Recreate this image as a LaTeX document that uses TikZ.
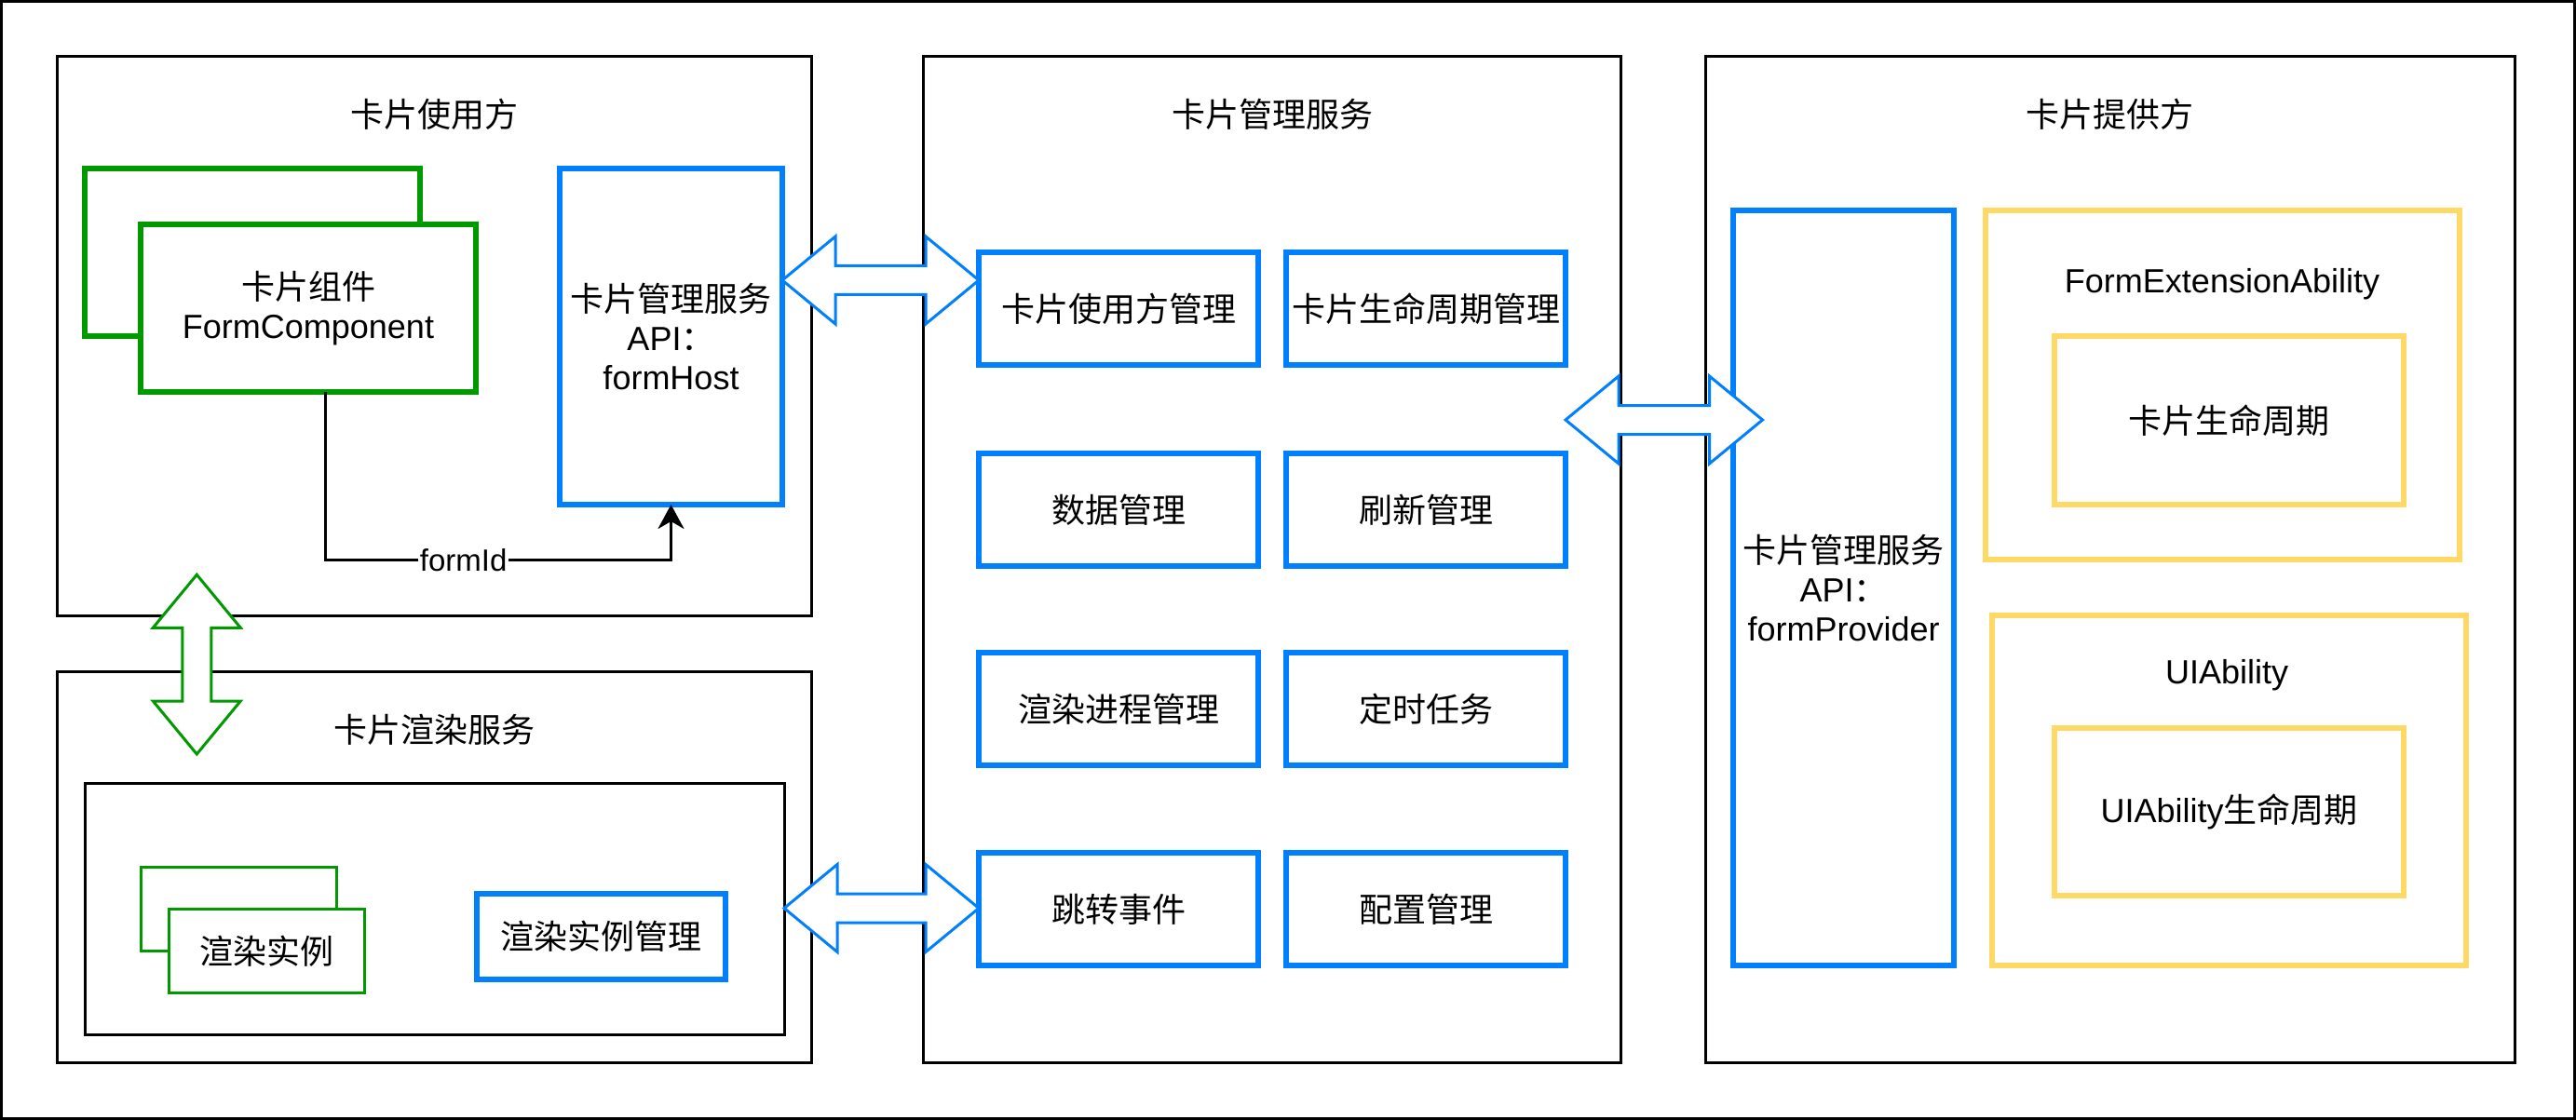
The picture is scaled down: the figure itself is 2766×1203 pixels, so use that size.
\documentclass[tikz,border=0pt]{standalone}
\usepackage{fontspec}
\setmainfont{Liberation Sans}
\newfontfamily\cjk{Noto Sans CJK SC}
\usetikzlibrary{arrows.meta}
\definecolor{dblue}{HTML}{007FFF}
\definecolor{dgreen}{HTML}{009900}
\definecolor{dyellow}{HTML}{FFD966}
% horizontal double block arrow: #2 left tip, #3 right tip
\newcommand\HDbl[3][]{%
  \draw[dblarr,#1] (#2) -- ([shift={(57,-47)}]#2) -- ([shift={(57,-15.5)}]#2)
    -- ([shift={(-57,-15.5)}]#3) -- ([shift={(-57,-47)}]#3) -- (#3)
    -- ([shift={(-57,47)}]#3) -- ([shift={(-57,15.5)}]#3)
    -- ([shift={(57,15.5)}]#2) -- ([shift={(57,47)}]#2) -- cycle;}
% vertical double block arrow: #2 top tip, #3 bottom tip
\newcommand\VDbl[3][]{%
  \draw[dblarr,#1] (#2) -- ([shift={(47,57)}]#2) -- ([shift={(15.5,57)}]#2)
    -- ([shift={(15.5,-57)}]#3) -- ([shift={(47,-57)}]#3) -- (#3)
    -- ([shift={(-47,-57)}]#3) -- ([shift={(-15.5,-57)}]#3)
    -- ([shift={(-15.5,57)}]#2) -- ([shift={(-47,57)}]#2) -- cycle;}
\begin{document}
\begin{tikzpicture}[x=0.5pt,y=-0.5pt,
  every node/.style={inner sep=0pt, outer sep=0pt, font=\fontsize{18pt}{21pt}\selectfont},
  sz/.style 2 args={minimum width=#1*0.5pt, minimum height=#2*0.5pt},
  blk/.style={draw=black, line width=1.5pt},
  bluebox/.style={draw=dblue, line width=3pt, fill=white},
  greenbox/.style={draw=dgreen, line width=3pt, fill=white},
  greenthin/.style={draw=dgreen, line width=1.5pt, fill=white},
  yelbox/.style={draw=dyellow, line width=3pt},
  multi/.style={align=center},
  dblarr/.style={line width=1.5pt, fill=white, line join=miter},
  lbl/.style={fill=white, inner sep=1pt, font=\fontsize{16.5pt}{18pt}\selectfont},
]
\useasboundingbox (0,0) rectangle (2766,1203);
\node[blk, sz={2763}{1200}] (frame) at (1383,601.5) {};

% ---- card user ----
\node[blk, sz={810}{600}] (user) at (466,361) {};
\node (tuser) at (466,123) {\cjk 卡片使用方};
\node[greenbox, sz={360}{180}] (fcback) at (271,271) {};
\node[greenbox, sz={360}{180}, multi] (fc) at (331,331) {{\cjk 卡片组件}\\FormComponent};
\node[bluebox, sz={239}{361}, multi] (fh) at (720.5,361.5) {{\cjk 卡片管理服务}\\API{\cjk ：}\\formHost};
\draw[line width=1.5pt, -{Stealth[length=13pt,width=14pt,inset=4pt]}]
  ([xshift=9pt]fc.south) -- ++(0,180.7) -| node[lbl, pos=0.2] {formId} (fh.south);

% ---- render service ----
\node[blk, sz={809.5}{419.5}] (render) at (466.25,931.25) {};
\node (trender) at (466.5,784) {\cjk 卡片渲染服务};
\node[blk, sz={751}{270}] (rinner) at (466.5,976.5) {};
\node[greenthin, sz={210}{89.5}] (riback) at (256.5,976.25) {};
\node[greenthin, sz={210}{89.5}] (ri) at (286,1021.25) {\cjk 渲染实例};
\node[bluebox, sz={267}{92}] (rim) at (645.5,1006) {\cjk 渲染实例管理};

% ---- management service ----
\node[blk, sz={749}{1080}] (mgr) at (1365.5,601) {};
\node (tmgr) at (1366,123) {\cjk 卡片管理服务};
\node[bluebox, sz={300}{121}] (um) at (1201,331.5) {\cjk 卡片使用方管理};
\node[bluebox, sz={300}{121}] (lm) at (1531,331.5) {\cjk 卡片生命周期管理};
\node[bluebox, sz={300}{121}] (dm) at (1201,547.5) {\cjk 数据管理};
\node[bluebox, sz={300}{121}] (rm) at (1531,547.5) {\cjk 刷新管理};
\node[bluebox, sz={300}{121}] (pm) at (1201,761.5) {\cjk 渲染进程管理};
\node[bluebox, sz={300}{121}] (tm) at (1531,761.5) {\cjk 定时任务};
\node[bluebox, sz={300}{121}] (je) at (1201,976.5) {\cjk 跳转事件};
\node[bluebox, sz={300}{121}] (cm) at (1531,976.5) {\cjk 配置管理};

% ---- card provider ----
\node[blk, sz={869}{1080}] (prov) at (2265.5,601) {};
\node (tprov) at (2265,123) {\cjk 卡片提供方};
\node[bluebox, sz={237}{810.5}, multi] (fp) at (1979.5,631.25) {{\cjk 卡片管理服务}\\API{\cjk ：}\\formProvider};
\node[yelbox, sz={509}{375}] (fea) at (2386.5,413.5) {};
\node (tfea) at (2386,305) {FormExtensionAbility};
\node[yelbox, sz={375}{181}] (fealc) at (2393.5,451.5) {\cjk 卡片生命周期};
\node[yelbox, sz={509}{375.5}] (uia) at (2393.5,848.75) {};
\node (tuia) at (2391,725) {UIAbility};
\node[yelbox, sz={375}{180}] (uialc) at (2393.5,872) {UIAbility{\cjk 生命周期}};

% ---- block arrows ----
\coordinate (a1l) at (fh.east |- 0,301);
\coordinate (a1r) at (um.west |- 0,301);
\HDbl[draw=dblue]{a1l}{a1r}
\coordinate (a2l) at (rinner.east |- 0,975.5);
\coordinate (a2r) at (je.west |- 0,975.5);
\HDbl[draw=dblue]{a2l}{a2r}
\coordinate (a3l) at (lm.east |- 0,451);
\coordinate (a3r) at (1892.5,451);
\HDbl[draw=dblue]{a3l}{a3r}
\coordinate (g1) at (211.3,617.3);
\coordinate (g2) at (211.3,810);
\VDbl[draw=dgreen]{g1}{g2}
\end{tikzpicture}
\end{document}
